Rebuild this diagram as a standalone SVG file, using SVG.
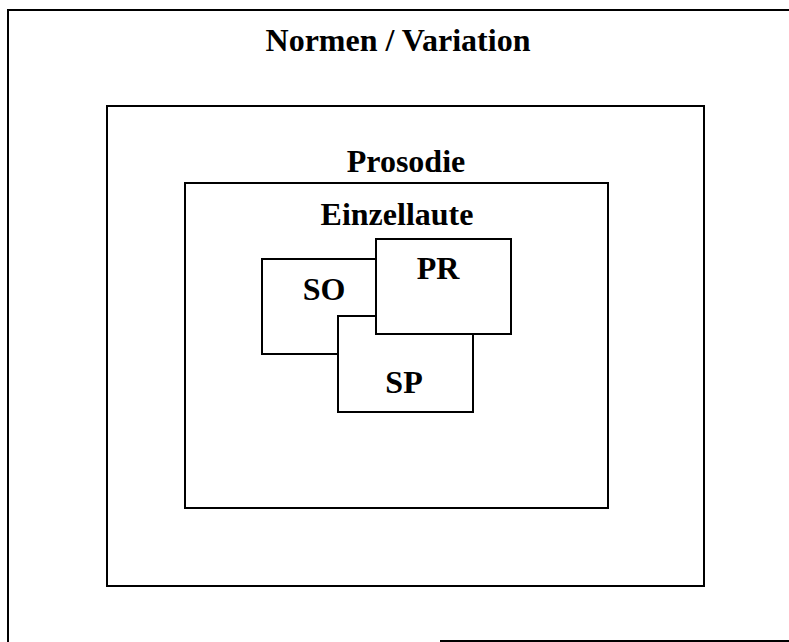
<svg xmlns="http://www.w3.org/2000/svg" width="789" height="642" viewBox="0 0 789 642">
  <style>
    .box { fill: #ffffff; stroke: #000000; stroke-width: 2; }
    .frame { fill: none; stroke: #000000; stroke-width: 2; }
    .lbl { font-family: "Liberation Serif", "Times New Roman", serif; font-weight: bold; font-size: 32px; fill: #000000; text-anchor: middle; }
  </style>
  <rect width="789" height="642" fill="#ffffff"/>

  <!-- outer frame, right side runs off the page -->
  <g id="normen">
    <path class="frame" d="M789,10 H8 V642"/>
    <path class="frame" d="M440,641 H789"/>
    <text class="lbl" x="398" y="51">Normen / Variation</text>
  </g>

  <g id="prosodie">
    <rect class="box" x="107" y="106" width="597" height="480"/>
    <text class="lbl" x="406" y="172">Prosodie</text>
  </g>

  <g id="einzellaute">
    <rect class="box" x="185" y="183" width="423" height="325"/>
    <text class="lbl" x="397" y="225">Einzellaute</text>
  </g>

  <g id="so">
    <rect class="box" x="262" y="259" width="114" height="95"/>
    <text class="lbl" x="324" y="300">SO</text>
  </g>

  <g id="sp">
    <rect class="box" x="338" y="316" width="135" height="96"/>
    <text class="lbl" x="404" y="393">SP</text>
  </g>

  <g id="pr">
    <rect class="box" x="376" y="239" width="135" height="95"/>
    <text class="lbl" x="438" y="279">PR</text>
  </g>

  <g id="connectors"></g>
</svg>
